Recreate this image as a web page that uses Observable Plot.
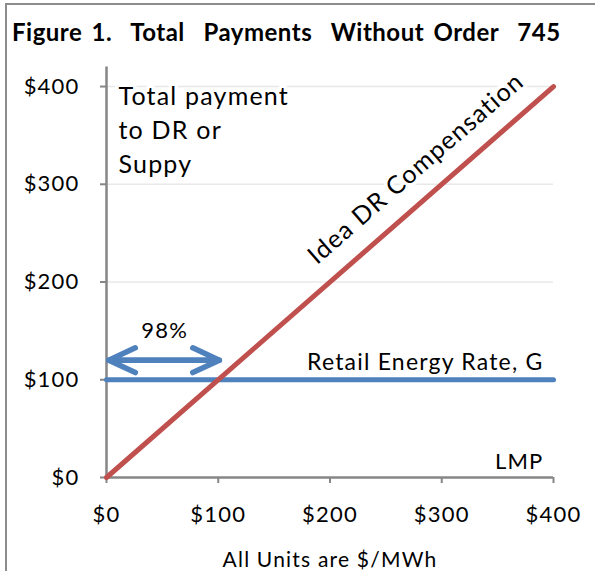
<!DOCTYPE html>
<html>
<head>
<meta charset="utf-8">
<script src="https://cdn.jsdelivr.net/npm/d3@7"></script>
<script src="https://cdn.jsdelivr.net/npm/@observablehq/plot@0.6"></script>
<style>
  html, body { margin: 0; padding: 0; background: #fff; }
  body { position: relative; width: 595px; height: 571px; overflow: hidden; font-family: Lato, "Open Sans", sans-serif; }
  #frame { position: absolute; left: 5px; top: 3px; width: 700px; height: 700px; border-left: 2.5px solid #8c8c8c; border-top: 2.5px solid #8c8c8c; }
  #title { position: absolute; left: 12px; top: 20px; font: bold 24px Lato, sans-serif; line-height: 1; white-space: pre; color: #000; letter-spacing: 0.5px; word-spacing: 3px; }
  #chart { position: absolute; left: 7px; top: 55px; }
  #chart svg text { letter-spacing: 1.2px; }
</style>
</head>
<body>
<div id="frame"></div>
<div id="title">Figure 1.  Total  Payments  Without Order  745</div>
<div id="chart"></div>
<script>
// LMP ($/MWh) on x, total payment ($/MWh) on y
const xTicks = [0, 100, 200, 300, 400];
const yTicks = [0, 100, 200, 300, 400];
const idealLmp = [0, 400];
const idealPay = [0, 400];
const retailLmp = [0, 400];
const retailPay = [100, 100];
const arrowFrom = [101, 2];
const arrowTo = [2, 101];
const arrowLevel = [120, 120];

const ideal = idealLmp.map((x, i) => ({x, y: idealPay[i]}));
const retail = retailLmp.map((x, i) => ({x, y: retailPay[i]}));
const arrows = arrowFrom.map((x1, i) => ({x1, x2: arrowTo[i], y: arrowLevel[i]}));

const halo = {stroke: "white", strokeWidth: 7, fill: "black"};

const chart = Plot.plot({
  width: 588,
  height: 516,
  marginLeft: 99,
  marginRight: 42,
  marginTop: 11.5,
  marginBottom: 94,
  x: {domain: [0, 400]},
  y: {domain: [0, 420]},
  style: {fontFamily: "Lato, sans-serif", fontSize: "22px", color: "#000", background: "transparent", overflow: "visible"},
  marks: [
    Plot.ruleY(yTicks.slice(1), {x1: 0, x2: 400, stroke: "#e8e8e8", strokeWidth: 1.5}),
    Plot.text(["Total payment\nto DR or\nSuppy"], {text: d => d, frameAnchor: "top-left", dx: 12, dy: 14, textAnchor: "start", lineAnchor: "top", lineHeight: 1.36, fontSize: 25, ...halo}),
    Plot.text(["Idea DR Compensation"], {text: d => d, x: 277, y: 316, rotate: -41, fontSize: 25, ...halo}),
    Plot.text(["Retail Energy Rate, G"], {text: d => d, x: 391, y: 118, textAnchor: "end", fontSize: 23, ...halo}),
    Plot.text(["LMP"], {text: d => d, x: 391, y: 15.5, textAnchor: "end", fontSize: 22, ...halo}),
    Plot.text(["98%"], {text: d => d, x: 52, y: 150, fontSize: 22, ...halo}),
    Plot.ruleX([0], {stroke: "#868686", strokeWidth: 2.5}),
    Plot.ruleY([0], {x1: 0, x2: 400, stroke: "#868686", strokeWidth: 2.5}),
    Plot.axisX(xTicks, {tickSize: 6, tickPadding: 23, tickFormat: d => "$" + d, stroke: "#868686", strokeWidth: 2, fill: "black", label: null, fontSize: 22}),
    Plot.axisY(yTicks, {tickSize: 6, tickPadding: 21, tickFormat: d => "$" + d, stroke: "#868686", strokeWidth: 2, fill: "black", label: null, fontSize: 22}),
    Plot.text(["All Units are $/MWh"], {text: d => d, frameAnchor: "bottom", dx: 0, dy: 89, fontSize: 21}),
    Plot.line(retail, {x: "x", y: "y", stroke: "#4F81BD", strokeWidth: 5}),
    Plot.line(ideal, {x: "x", y: "y", stroke: "#C0504D", strokeWidth: 5}),
    Plot.arrow(arrows, {x1: "x1", x2: "x2", y1: "y", y2: "y", stroke: "#4F81BD", strokeWidth: 5.5, headLength: 8, headAngle: 50})
  ]
});
document.getElementById("chart").appendChild(chart);
</script>
</body>
</html>
